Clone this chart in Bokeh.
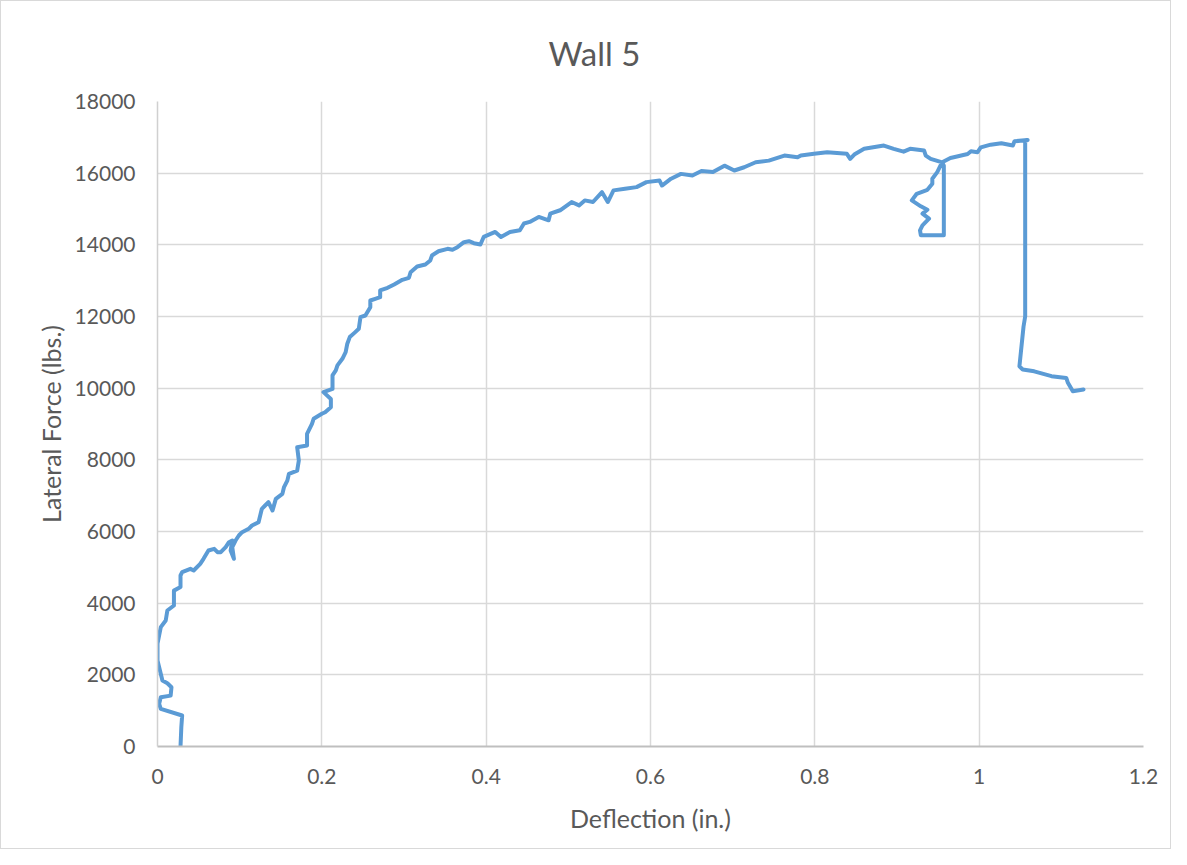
from bokeh.plotting import figure
from bokeh.models import FixedTicker, ColumnDataSource
from bokeh.embed import file_html
from bokeh.resources import INLINE

# Deflection (in.) and Lateral Force (lbs.)
deflection = [
    0.028, 0.029, 0.030, 0.004, 0.002, 0.004, 0.016, 0.017, 0.012, 0.006,
    0.002, 0.000, 0.000, 0.004, 0.010, 0.012, 0.020, 0.020, 0.028, 0.028,
    0.030, 0.040, 0.044, 0.052, 0.056, 0.062, 0.069, 0.073, 0.077, 0.083,
    0.087, 0.091, 0.089, 0.093, 0.091, 0.095, 0.099, 0.103, 0.111, 0.115,
    0.123, 0.125, 0.127, 0.131, 0.135, 0.140, 0.144, 0.152, 0.154, 0.158,
    0.160, 0.170, 0.172, 0.170, 0.182, 0.182, 0.188, 0.190, 0.200, 0.204,
    0.211, 0.211, 0.202, 0.213, 0.213, 0.213, 0.217, 0.219, 0.225, 0.229,
    0.231, 0.234, 0.240, 0.245, 0.247, 0.253, 0.259, 0.259, 0.265, 0.271,
    0.271, 0.280, 0.288, 0.298, 0.306, 0.308, 0.316, 0.326, 0.332, 0.334,
    0.342, 0.353, 0.359, 0.365, 0.373, 0.379, 0.385, 0.393, 0.397, 0.411,
    0.418, 0.429, 0.441, 0.446, 0.453, 0.464, 0.476, 0.478, 0.490, 0.504,
    0.513, 0.520, 0.530, 0.541, 0.548, 0.555, 0.569, 0.583, 0.595, 0.611,
    0.614, 0.625, 0.637, 0.651, 0.662, 0.676, 0.690, 0.702, 0.714, 0.728,
    0.744, 0.763, 0.779, 0.783, 0.799, 0.815, 0.839, 0.843, 0.848, 0.860,
    0.884, 0.896, 0.908, 0.916, 0.933, 0.935, 0.941, 0.955, 0.957, 0.957,
    0.929, 0.928, 0.931, 0.939, 0.931, 0.937, 0.929, 0.918, 0.924, 0.937,
    0.943, 0.943, 0.949, 0.953, 0.955, 0.965, 0.973, 0.986, 0.990, 0.998,
    1.002, 1.014, 1.027, 1.041, 1.043, 1.059, 1.056, 1.056, 1.054, 1.049,
    1.053, 1.067, 1.088, 1.106, 1.108, 1.114, 1.127,
]
lateral_force = [
    0, 540, 865, 1050, 1190, 1375, 1420, 1655, 1765, 1840,
    2210, 2400, 2870, 3330, 3515, 3795, 3935, 4350, 4450, 4772,
    4865, 4958, 4912, 5098, 5238, 5470, 5517, 5423, 5423, 5563,
    5702, 5749, 5470, 5238, 5563, 5749, 5888, 5981, 6075, 6168,
    6260, 6447, 6633, 6726, 6819, 6585, 6910, 7050, 7240, 7420,
    7610, 7700, 7980, 8350, 8400, 8725, 9005, 9145, 9285, 9330,
    9470, 9700, 9890, 9980, 10215, 10355, 10495, 10635, 10820, 11005,
    11240, 11425, 11550, 11656, 11981, 12028, 12260, 12447, 12493, 12539,
    12726, 12800, 12893, 13024, 13080, 13236, 13395, 13451, 13563, 13702,
    13822, 13889, 13861, 13935, 14074, 14102, 14046, 14009, 14220, 14360,
    14220, 14360, 14405, 14595, 14640, 14780, 14685, 14870, 14965, 15195,
    15100, 15240, 15195, 15470, 15195, 15520, 15565, 15610, 15750, 15795,
    15655, 15845, 15980, 15935, 16060, 16030, 16210, 16075, 16165, 16305,
    16350, 16490, 16445, 16495, 16540, 16585, 16540, 16400, 16520, 16680,
    16770, 16680, 16600, 16680, 16630, 16490, 16400, 16300, 16210, 14270,
    14270, 14405, 14545, 14730, 14870, 14980, 15075, 15240, 15425, 15535,
    15705, 15845, 16030, 16215, 16305, 16425, 16465, 16535, 16610, 16585,
    16720, 16795, 16835, 16770, 16890, 16925, 16905, 12000, 11720, 10610,
    10520, 10470, 10335, 10285, 10150, 9915, 9965,
]

x_ticks = [0, 0.2, 0.4, 0.6, 0.8, 1.0, 1.2]
x_tick_labels = ["0", "0.2", "0.4", "0.6", "0.8", "1", "1.2"]
y_ticks = [0, 2000, 4000, 6000, 8000, 10000, 12000, 14000, 16000, 18000]

FONT = "Lato"
TXT = "#595959"

p = figure(
    width=1169, height=847,
    frame_width=986, frame_height=645,
    x_range=(0, 1.2), y_range=(0, 18000),
    output_backend="svg", toolbar_location=None,
    title="Wall 5",
    min_border_left=156, min_border_right=27,
    min_border_top=100, min_border_bottom=102,
)
p.styles = {"border": "1px solid #d9d9d9"}
p.outline_line_color = None
p.background_fill_color = "white"
p.border_fill_color = "white"

p.title.align = "left"
p.title.offset = 391
p.title.text_font = FONT
p.title.text_font_size = "33px"
p.title.text_font_style = "normal"
p.title.text_color = TXT
p.title.standoff = 57

src = ColumnDataSource(data=dict(x=deflection, y=lateral_force))
p.line("x", "y", source=src, line_color="#5B9BD5", line_width=4,
       line_join="round", line_cap="round")

p.xaxis.ticker = FixedTicker(ticks=x_ticks)
p.xaxis.major_label_overrides = dict(zip(x_ticks, x_tick_labels))
p.yaxis.ticker = FixedTicker(ticks=y_ticks)

for ax in (p.xaxis[0], p.yaxis[0]):
    ax.major_tick_line_color = None
    ax.minor_tick_line_color = None
    ax.major_label_text_font = FONT
    ax.major_label_text_font_size = "21px"
    ax.major_label_text_color = TXT
    ax.axis_label_text_font = FONT
    ax.axis_label_text_font_size = "25px"
    ax.axis_label_text_font_style = "normal"
    ax.axis_label_text_color = TXT
    ax.major_label_standoff = 16

p.xaxis.axis_label = "Deflection (in.)"
p.yaxis.axis_label = "Lateral Force (lbs.)"
p.xaxis.axis_line_color = "#bfbfbf"
p.xaxis.axis_line_width = 2
p.yaxis.axis_line_color = "#d0d0d0"
p.yaxis.axis_line_width = 1.5
p.xaxis.axis_label_standoff = 16
p.yaxis.axis_label_standoff = 6

p.xgrid.ticker = FixedTicker(ticks=x_ticks)
p.ygrid.ticker = FixedTicker(ticks=y_ticks)
p.grid.grid_line_color = "#d9d9d9"
p.grid.grid_line_width = 1.5

open("out.html", "w").write(file_html(p, INLINE))
